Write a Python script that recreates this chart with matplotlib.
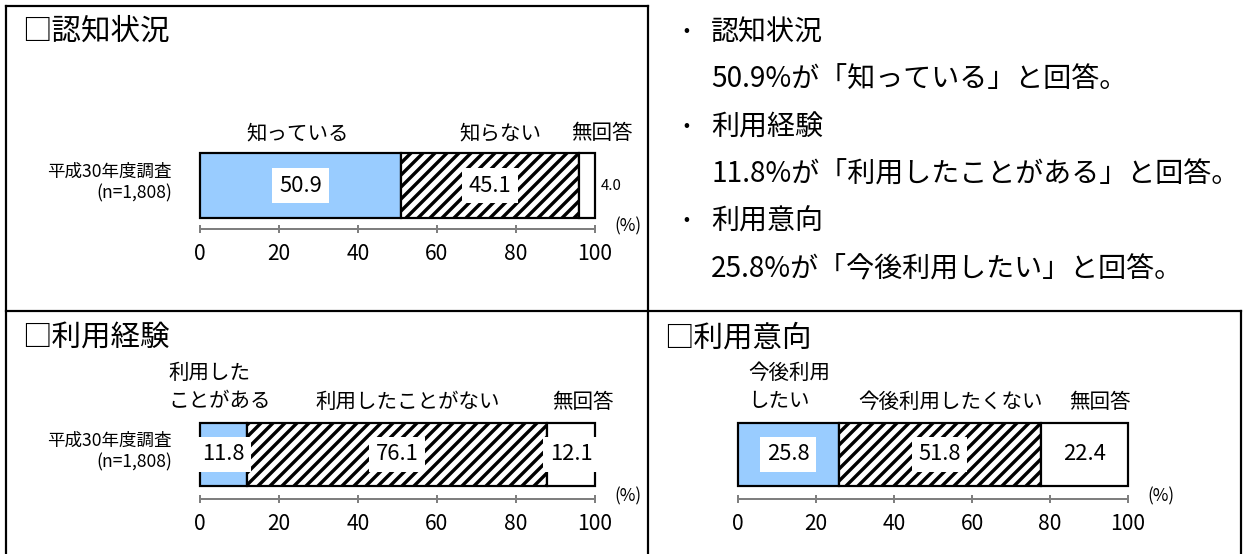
import matplotlib
matplotlib.use("Agg")
import matplotlib.pyplot as plt
from matplotlib.lines import Line2D

plt.rcParams['font.family'] = ['Noto Sans CJK JP', 'DejaVu Sans']
plt.rcParams['hatch.linewidth'] = 3.4
plt.rcParams['hatch.color'] = 'black'

W, H = 1244, 554
DPI = 72

# ---------------- data ----------------
survey_label = "平成30年度調査\n(n=1,808)"
tick_values = [0, 20, 40, 60, 80, 100]

ninchi_title = "□認知状況"
ninchi_categories = ["知っている", "知らない", "無回答"]
ninchi_values = [50.9, 45.1, 4.0]

keiken_title = "□利用経験"
keiken_categories = ["利用した\nことがある", "利用したことがない", "無回答"]
keiken_values = [11.8, 76.1, 12.1]

ikou_title = "□利用意向"
ikou_categories = ["今後利用\nしたい", "今後利用したくない", "無回答"]
ikou_values = [25.8, 51.8, 22.4]

summary_heads = ["認知状況", "利用経験", "利用意向"]
summary_texts = ["50.9%が「知っている」と回答。",
                 "11.8%が「利用したことがある」と回答。",
                 "25.8%が「今後利用したい」と回答。"]

# ---------------- style ----------------
seg_colors = ["#99CCFF", "white", "white"]
seg_hatches = [None, "//", None]
GRAY = "#7f7f7f"

fig = plt.figure(figsize=(W / DPI, H / DPI), dpi=DPI)
fig.patch.set_facecolor("white")


def fx(x):
    return x / W


def fy(y):
    return 1 - y / H


def hline(x0, x1, y, lw=2.2):
    fig.add_artist(Line2D([fx(x0), fx(x1)], [fy(y), fy(y)], transform=fig.transFigure,
                          color="black", lw=lw, solid_capstyle="projecting"))


def vline(x, y0, y1, lw=2.2):
    fig.add_artist(Line2D([fx(x), fx(x)], [fy(y0), fy(y1)], transform=fig.transFigure,
                          color="black", lw=lw, solid_capstyle="projecting"))


def draw_chart(rect, values, categories, cat_x, cat_ha, cat_dy, spine_out, show_survey):
    left, top, right, bottom = rect
    ax = fig.add_axes([fx(left), fy(bottom), fx(right - left), (bottom - top) / H])
    start = 0.0
    for v, c, h in zip(values, seg_colors, seg_hatches):
        ax.barh(0, v, left=start, height=1.0, color=c, edgecolor="black",
                linewidth=2.2, hatch=h, clip_on=False, zorder=2)
        # value label
        if v < 6:
            ax.text(100 + 4.2, 0, f"{v:.1f}", ha="center", va="center", fontsize=15, zorder=4)
        else:
            ax.text(start + v / 2, 0, f"{v:.1f}", ha="center", va="center", fontsize=22, zorder=4,
                    bbox=dict(boxstyle="square,pad=0.3", facecolor="white", edgecolor="none"))
        start += v
    ax.set_xlim(0, 100)
    ax.set_ylim(-0.5, 0.5)
    for s in ["left", "right", "top"]:
        ax.spines[s].set_visible(False)
    ax.spines["bottom"].set_position(("outward", spine_out))
    ax.spines["bottom"].set_color(GRAY)
    ax.spines["bottom"].set_linewidth(2)
    ax.set_yticks([])
    ax.set_xticks(tick_values)
    ax.set_xticklabels([str(t) for t in tick_values])
    ax.tick_params(axis="x", direction="inout", length=8, width=2, color=GRAY,
                   labelsize=21, pad=10)
    ax.set_facecolor("none")
    # category headers
    for cat, x, ha, dy in zip(categories, cat_x, cat_ha, cat_dy):
        ax.annotate(cat, xy=(x, 1), xycoords=("data", "axes fraction"),
                    xytext=(0, dy), textcoords="offset points", ha=ha, va="center",
                    multialignment=ha if ha != "center" else "center",
                    fontsize=20.5, linespacing=1.32, annotation_clip=False)
    # (%)
    ax.annotate("(%)", xy=(1, 0), xycoords="axes fraction", xytext=(33, -spine_out + 3),
                textcoords="offset points", ha="center", va="center", fontsize=17,
                annotation_clip=False)
    if show_survey:
        ax.annotate(survey_label, xy=(0, 0.5), xycoords="axes fraction",
                    xytext=(-28, 3), textcoords="offset points", ha="right", va="center",
                    multialignment="right", fontsize=17.5, linespacing=1.3,
                    annotation_clip=False)
    return ax


# panel borders
hline(6, 648, 6)
hline(6, 1241, 311)
vline(6, 6, 554)
vline(648, 6, 554)
vline(1241, 311, 554)

# titles
fig.text(fx(22), fy(31), ninchi_title, fontsize=29.5, ha="left", va="center")
fig.text(fx(22), fy(338), keiken_title, fontsize=29.5, ha="left", va="center")
fig.text(fx(664), fy(338), ikou_title, fontsize=29.5, ha="left", va="center")

# charts
draw_chart((200, 153, 595, 218), ninchi_values, ninchi_categories,
           [24.8, 76.0, 101.8], ["center", "center", "center"], [20, 20, 20], 11, True)
draw_chart((200, 423, 595, 486), keiken_values, keiken_categories,
           [-8.1, 52.7, 97.0], ["left", "center", "center"], [36, 21, 21], 13, True)
draw_chart((738, 423, 1128, 486), ikou_values, ikou_categories,
           [2.6, 54.4, 92.8], ["left", "center", "center"], [36, 21, 21], 13, False)

# summary text on the right
bullet_y = [33, 128, 222]
for head, txt, y in zip(summary_heads, summary_texts, bullet_y):
    fig.text(fx(686), fy(y), "・", fontsize=22, ha="center", va="center")
    fig.text(fx(711), fy(y), head, fontsize=28, ha="left", va="center")
    fig.text(fx(711), fy(y + 47), txt, fontsize=28, ha="left", va="center")

fig.savefig("out.png", dpi=DPI, facecolor="white")
